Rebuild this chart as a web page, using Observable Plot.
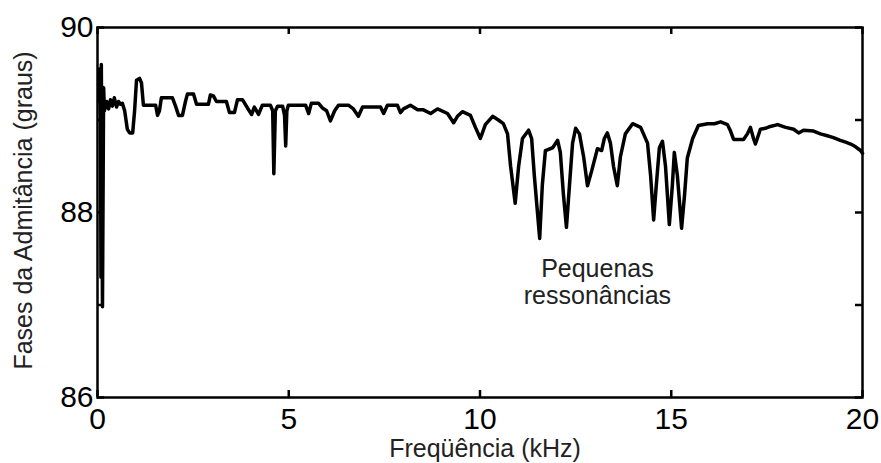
<!DOCTYPE html>
<html>
<head>
<meta charset="utf-8">
<script src="https://cdn.jsdelivr.net/npm/d3@7"></script>
<script src="https://cdn.jsdelivr.net/npm/@observablehq/plot@0.6"></script>
<style>
  html, body { margin: 0; padding: 0; background: #fff; }
</style>
</head>
<body>
<div id="chart"></div>
<script>
const freq = [0.03,0.05,0.08,0.09,0.10,0.13,0.16,0.18,0.24,0.29,0.34,0.39,0.44,0.50,0.55,0.60,0.65,0.71,0.78,0.84,0.92,0.97,1.02,1.10,1.15,1.20,1.52,1.57,1.62,1.67,1.96,2.04,2.12,2.22,2.30,2.35,2.51,2.59,2.90,2.95,3.03,3.11,3.37,3.45,3.58,3.66,3.79,3.92,4.03,4.10,4.21,4.31,4.52,4.58,4.61,4.65,4.71,4.84,4.89,4.92,4.95,4.99,5.44,5.52,5.59,5.78,5.88,5.99,6.09,6.20,6.30,6.56,6.69,6.82,6.93,7.40,7.48,7.58,7.84,7.92,8.00,8.18,8.37,8.52,8.71,8.89,9.15,9.31,9.41,9.54,9.75,9.88,10.01,10.14,10.33,10.48,10.61,10.72,10.80,10.92,11.01,11.11,11.27,11.35,11.42,11.56,11.63,11.71,11.90,12.03,12.10,12.18,12.26,12.34,12.42,12.50,12.60,12.71,12.81,12.92,13.07,13.18,13.25,13.33,13.41,13.49,13.59,13.67,13.80,13.99,14.20,14.38,14.46,14.54,14.61,14.69,14.77,14.85,14.95,15.03,15.08,15.16,15.27,15.35,15.42,15.56,15.71,15.95,16.13,16.29,16.47,16.55,16.63,16.89,16.99,17.07,17.15,17.20,17.25,17.33,17.46,17.59,17.78,17.99,18.20,18.33,18.46,18.72,18.90,19.08,19.24,19.42,19.56,19.69,19.82,19.95,20.00];
const phase = [89.2,89.55,89.0,87.3,89.6,86.98,89.35,89.1,89.2,89.12,89.22,89.15,89.24,89.14,89.2,89.17,89.18,89.1,88.9,88.86,88.86,89.1,89.43,89.45,89.4,89.16,89.16,89.05,89.1,89.24,89.24,89.15,89.05,89.05,89.2,89.28,89.28,89.17,89.17,89.27,89.26,89.2,89.2,89.08,89.08,89.22,89.22,89.13,89.06,89.14,89.06,89.16,89.16,89.1,88.42,89.1,89.15,89.15,89.05,88.72,89.1,89.16,89.16,89.07,89.18,89.18,89.13,89.1,88.99,89.1,89.16,89.16,89.12,89.04,89.14,89.14,89.07,89.16,89.16,89.08,89.12,89.16,89.11,89.11,89.07,89.12,89.07,88.97,89.04,89.09,89.05,88.92,88.8,88.95,89.04,89.0,88.96,88.85,88.5,88.1,88.5,88.8,88.89,88.8,88.4,87.72,88.3,88.67,88.7,88.78,88.65,88.2,87.84,88.3,88.75,88.91,88.85,88.6,88.29,88.45,88.69,88.67,88.8,88.86,88.75,88.5,88.29,88.6,88.85,88.96,88.92,88.75,88.4,87.92,88.3,88.7,88.77,88.5,87.87,88.3,88.65,88.4,87.83,88.2,88.59,88.8,88.94,88.96,88.96,88.98,88.95,88.88,88.79,88.79,88.85,88.92,88.8,88.74,88.8,88.9,88.91,88.93,88.95,88.92,88.9,88.86,88.89,88.88,88.85,88.83,88.81,88.78,88.76,88.74,88.71,88.67,88.64];

const xTicks = [0, 5, 10, 15, 20];
const xTickLabels = ["0", "5", "10", "15", "20"];
const yTicks = [86, 87, 88, 89, 90];
const yLabelTicks = [86, 88, 90];
const yTickLabels = ["86", "88", "90"];
const xTitle = "Freqüência (kHz)";
const yTitle = "Fases da Admitância (graus)";
const annotation = ["Pequenas\nressonâncias"];
const annotationAt = {x: 13.07, y: 87.25};

const data = freq.map((f, i) => ({f, p: phase[i]}));

const W = 881, H = 463, mL = 97, mR = 19, mT = 27, mB = 66;
const pw = W - mL - mR, ph = H - mT - mB, tl = 7;
const font = "'Liberation Sans', Arial, Helvetica, sans-serif";

const chart = Plot.plot({
  width: W, height: H,
  marginLeft: mL, marginRight: mR, marginTop: mT, marginBottom: mB,
  style: {fontFamily: font, background: "#fff", color: "#000", overflow: "visible"},
  x: {domain: [0, 20]},
  y: {domain: [86, 90]},
  marks: [
    Plot.line(data, {x: "f", y: "p", stroke: "#000", strokeWidth: 3.5, strokeLinejoin: "round", strokeLinecap: "round"}),
    Plot.tickY(yTicks, {y: d => d, insetRight: pw - tl, stroke: "#000", strokeWidth: 2.5}),
    Plot.tickY(yTicks, {y: d => d, insetLeft: pw - tl, stroke: "#000", strokeWidth: 2.5}),
    Plot.tickX(xTicks, {x: d => d, insetTop: ph - tl, stroke: "#000", strokeWidth: 2.5}),
    Plot.tickX(xTicks, {x: d => d, insetBottom: ph - tl, stroke: "#000", strokeWidth: 2.5}),
    Plot.frame({stroke: "#000", strokeWidth: 2.5}),
    Plot.axisY(yLabelTicks, {anchor: "left", tickSize: 0, tickPadding: 4, fontSize: 30, label: null,
      tickFormat: d => yTickLabels[yLabelTicks.indexOf(d)], fill: "#000"}),
    Plot.axisX(xTicks, {anchor: "bottom", tickSize: 0, tickPadding: 10, fontSize: 30, label: null,
      tickFormat: d => xTickLabels[xTicks.indexOf(d)], fill: "#000"}),
    Plot.text([xTitle], {text: d => d, frameAnchor: "bottom", textAnchor: "middle", dx: 5, dy: 51, fontSize: 25, fill: "#222", lineAnchor: "middle"}),
    Plot.text([yTitle], {text: d => d, frameAnchor: "left", textAnchor: "middle", dx: -74, dy: -2, rotate: -90, fontSize: 25, fill: "#222", lineAnchor: "middle"}),
    Plot.text(annotation, {text: d => d, x: annotationAt.x, y: annotationAt.y, textAnchor: "middle", fontSize: 25, lineHeight: 1.08, fill: "#222", lineAnchor: "middle"})
  ]
});
document.getElementById("chart").appendChild(chart);
</script>
</body>
</html>
